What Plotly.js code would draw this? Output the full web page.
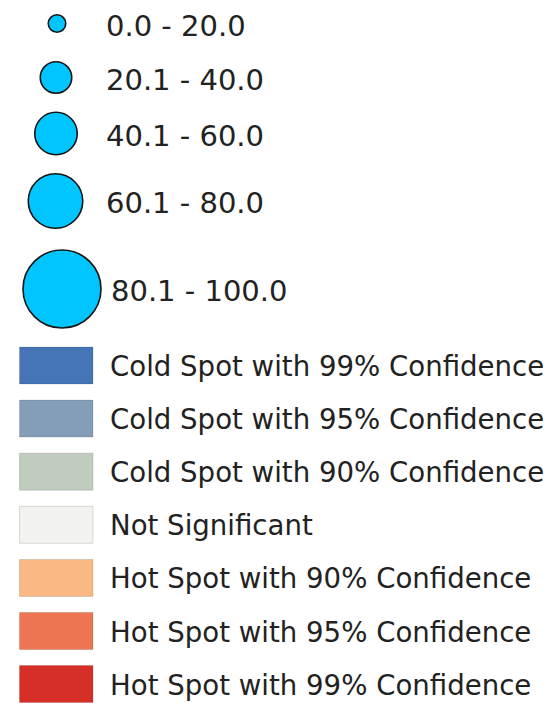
<!DOCTYPE html>
<html>
<head>
<meta charset="utf-8">
<script src="https://cdn.plot.ly/plotly-3.0.1.min.js"></script>
<style>
  html, body { margin: 0; padding: 0; background: #ffffff; }
  #chart { width: 549px; height: 703px; }
</style>
</head>
<body>
<div id="chart"></div>
<script>
// ---- data ----
const sizeClassLabels = ["0.0 - 20.0", "20.1 - 40.0", "40.1 - 60.0", "60.1 - 80.0", "80.1 - 100.0"];
const sizeClassSymbolDiameters = [17.5, 31.5, 42.5, 54.5, 78];
const hotspotLabels = [
  "Cold Spot with 99% Confidence",
  "Cold Spot with 95% Confidence",
  "Cold Spot with 90% Confidence",
  "Not Significant",
  "Hot Spot with 90% Confidence",
  "Hot Spot with 95% Confidence",
  "Hot Spot with 99% Confidence"
];
const hotspotColors = ["#4575b5", "#849eba", "#c0ccbe", "#f2f3ee", "#fab984", "#ed7551", "#d62f27"];

// ---- layout (pixel-unit positions of the legend rows) ----
const symbolRowCenters = [23.5, 77.5, 133.5, 201, 289];
const symbolColCenters = [57, 56, 56, 55.5, 62];
const swatchFirstCenter = 365.5, swatchPitch = 53.1;
const swatchLeft = 19.5, swatchWidth = 73.5, swatchHeight = 37;
const textColor = "#222222";
const fontFamily = "DejaVu Sans, Verdana, sans-serif";

const swatchRowCenters = hotspotLabels.map((_, i) => swatchFirstCenter + i * swatchPitch);

const circles = {
  type: "scatter", mode: "markers",
  x: symbolColCenters, y: symbolRowCenters,
  marker: {
    size: sizeClassSymbolDiameters, sizemode: "diameter", opacity: 1,
    color: "#00c5ff", line: { color: "#151515", width: 1.6 }
  },
  hoverinfo: "skip", showlegend: false
};

const swatches = {
  type: "bar", orientation: "h",
  y: swatchRowCenters,
  x: hotspotLabels.map(() => swatchWidth),
  base: swatchLeft,
  width: swatchHeight,
  marker: { color: hotspotColors, line: { color: "rgba(0,0,0,0.13)", width: 1 } },
  hoverinfo: "skip", showlegend: false
};

const annotations = [];
sizeClassLabels.forEach((t, i) => annotations.push({
  x: i === 4 ? 109 : 104, y: symbolRowCenters[i] + 2, xref: "x", yref: "y",
  text: t, showarrow: false, xanchor: "left", yanchor: "middle",
  font: { family: fontFamily, size: 29, color: textColor }
}));
hotspotLabels.forEach((t, i) => annotations.push({
  x: 108, y: swatchRowCenters[i] + 1, xref: "x", yref: "y",
  text: t, showarrow: false, xanchor: "left", yanchor: "middle",
  font: { family: fontFamily, size: 27.6, color: textColor }
}));

const layout = {
  width: 549, height: 703,
  margin: { l: 0, r: 0, t: 0, b: 0, pad: 0 },
  paper_bgcolor: "#ffffff", plot_bgcolor: "#ffffff",
  xaxis: { range: [0, 549], visible: false, fixedrange: true },
  yaxis: { range: [703, 0], visible: false, fixedrange: true },
  bargap: 0,
  annotations: annotations,
  showlegend: false
};

Plotly.newPlot("chart", [swatches, circles], layout, { displayModeBar: false, staticPlot: true });
</script>
</body>
</html>
